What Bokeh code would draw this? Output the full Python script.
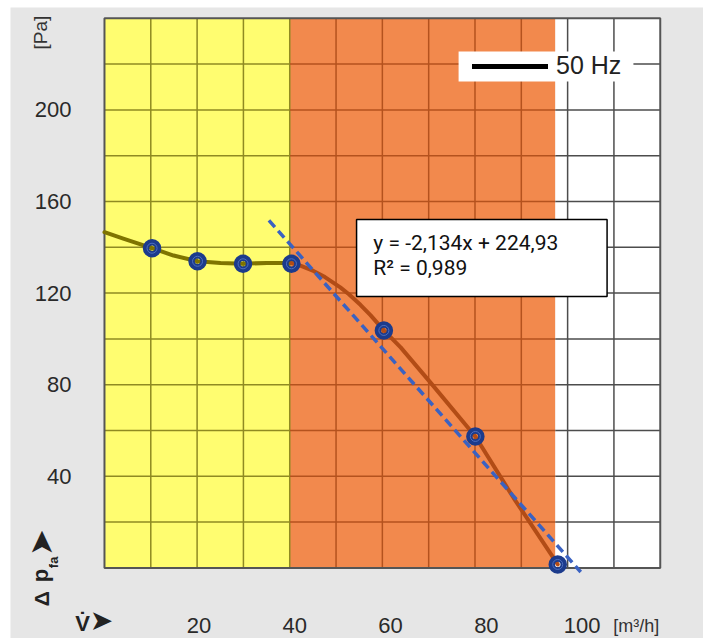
import numpy as np
from bokeh.plotting import figure
from bokeh.models import (Range1d, FixedTicker, Label, BoxAnnotation, Legend, LegendItem,
                          LinearAxis)
from bokeh.embed import file_html
from bokeh.resources import INLINE

# ---------------- data ----------------
flow = [10.2, 19.7, 29.2, 39.3, 58.6, 77.7, 94.9]            # m3/h
pressure = [139.6, 133.9, 132.8, 132.8, 103.7, 57.4, 1.5]     # Pa

curve_flow_low = [0.27, 4.2, 10.2, 14.7, 19.7, 24.5, 29.2, 34.2, 39.3]
curve_p_low = [146.6, 143.8, 139.6, 136.4, 133.9, 133.1, 132.8, 133.2, 133.1]
curve_flow_high = [39.3, 41.3, 43.9, 46.3, 49.5, 51.3, 53.7, 55.8, 58.6, 62.1, 68.3, 77.7, 85.7, 94.9]
curve_p_high = [133.1, 131.9, 129.7, 127.0, 122.5, 119.5, 114.9, 110.4, 103.7, 96.3, 81.0, 57.4, 30.5, 1.5]

x_ticks = [20, 40, 60, 80, 100]
y_ticks = [40, 80, 120, 160, 200]

zone_start = [0.27, 39.0, 94.4]
zone_end = [39.0, 94.4, 116.3]
zone_fill = ["#fffd70", "#f2894d", "#ffffff"]
zone_grid = ["#8f8a22", "#b4521e", "#4d4d4d"]

equation = "y = -2,134x + 224,93"
r_squared = "R² = 0,989"
legend_label = "50 Hz"
y_unit = "[Pa]"
x_unit = "[m³/h]"

# ---------------- figure ----------------
# chart area (with grid) spans X0..X1 / Y0..Y1; the frame also covers the grey margin
X0, X1 = 0.27, 116.3
Y0, Y1 = 0, 240

p = figure(width=693, height=631, output_backend="svg", toolbar_location=None,
           x_range=Range1d(-19.35, 125.33), y_range=Range1d(-30.83, 244.72),
           x_axis_type=None, y_axis_type=None,
           min_border_left=0, min_border_right=0, min_border_top=0, min_border_bottom=0)
p.margin = (7, 0, 0, 10)
p.border_fill_color = "#e6e6e6"
p.background_fill_color = "#e6e6e6"
p.outline_line_color = None
p.xgrid.visible = False
p.ygrid.visible = False

xa = LinearAxis(fixed_location=Y0, ticker=FixedTicker(ticks=x_ticks))
ya = LinearAxis(fixed_location=X0, ticker=FixedTicker(ticks=y_ticks))
for ax in (xa, ya):
    ax.axis_line_color = None
    ax.major_tick_line_color = None
    ax.minor_tick_line_color = None
    ax.major_tick_out = 0
    ax.major_tick_in = 0
    ax.major_label_text_font = "Liberation Sans"
    ax.major_label_text_font_size = "22px"
    ax.major_label_text_color = "#2a2a2a"
xa.major_label_standoff = 50
ya.major_label_standoff = 33
p.add_layout(xa, "below")
p.add_layout(ya, "left")

# zones
p.quad(left=zone_start, right=zone_end, bottom=Y0, top=Y1, fill_color=zone_fill, line_color=None)

# grid (12 x 12 cells), coloured per zone
gx = np.linspace(X0, X1, 13)[1:-1]
gy = np.arange(20, 240, 20)
for i, (a, b, c) in enumerate(zip(zone_start, zone_end, zone_grid)):
    p.segment(x0=[a] * len(gy), x1=[b] * len(gy), y0=list(gy), y1=list(gy),
              line_color=c, line_width=1.5)
    vx = [g for g in gx if (g >= a if i == 0 else g > a) and g <= b]
    if vx:
        p.segment(x0=vx, x1=vx, y0=[Y0] * len(vx), y1=[Y1] * len(vx),
                  line_color=c, line_width=1.5)

# chart outline
p.quad(left=X0, right=X1, bottom=Y0, top=Y1, fill_color=None, line_color="#555555", line_width=2)

# curve
p.line(curve_flow_low, curve_p_low, line_color="#7f7400", line_width=4, line_join="round", line_cap="round")
p.line(curve_flow_high, curve_p_high, line_color="#b24c16", line_width=4, line_join="round", line_cap="round")

# linear trend of the points in the orange zone
fx = np.array(flow)
fy = np.array(pressure)
sel = fx >= 39
k, d = np.polyfit(fx[sel], fy[sel], 1)
trend_x = np.array([34.6, 99.7])
p.line(trend_x, k * trend_x + d, line_color="#3a62c2", line_width=3.5, line_dash="9 5")

# markers
p.scatter(flow, pressure, size=12, fill_color=None, line_color="#1c3b8c", line_width=6.5)
p.scatter(flow, pressure, size=10, fill_color=None, line_color="#4d6fc0", line_width=1)

# equation box
p.add_layout(BoxAnnotation(left=52.9, right=105.2, bottom=118.5, top=152.1,
                           fill_color="white", fill_alpha=1, line_color="black", line_width=1.5,
                           line_alpha=1))
for txt, yy in ((equation, 141.8), (r_squared, 130.9)):
    p.add_layout(Label(x=56.4, y=yy, text=txt, text_font="Roboto", text_font_size="21px",
                       text_color="#111111", text_baseline="middle"))

# legend box
p.add_layout(BoxAnnotation(left=74.2, right=110.7, bottom=212.4, top=225.5,
                           fill_color="white", fill_alpha=1, line_color=None))
dummy = p.line(x=[np.nan], y=[np.nan], line_color="black", line_width=5, line_cap="round")
legend = Legend(items=[LegendItem(label=legend_label, renderers=[dummy])],
                location=(462, 558), padding=0, margin=0, spacing=0,
                glyph_width=76, glyph_height=26, label_height=26, label_standoff=8,
                background_fill_alpha=0, border_line_color=None,
                label_text_font="Liberation Sans", label_text_font_size="25px",
                label_text_color="#222222")
p.add_layout(legend)

# axis titles
def dlabel(text, x, y, size, angle=0.0, bold=False, font="Liberation Sans", color="#222222"):
    p.add_layout(Label(x=x, y=y, text=text,
                       text_font=font, text_font_size=size, angle=angle,
                       text_align="center", text_baseline="middle", text_color=color,
                       text_font_style="bold" if bold else "normal"))

dlabel(y_unit, -13.1, 233.8, "19px", angle=np.pi / 2, color="#333333")
dlabel("Δ", -12.9, -13.4, "21px", angle=np.pi / 2, bold=True)
dlabel("p", -13.1, -3.3, "22px", angle=np.pi / 2, bold=True)
dlabel("fa", -10.4, 2.4, "13px", angle=np.pi / 2, bold=True)
dlabel("➤", -12.9, 11.1, "32px", angle=np.pi / 2, font="DejaVu Sans")
dlabel("V̇", -4.3, -24.3, "22px", bold=True)
dlabel("➤", -0.35, -23.0, "28px", font="DejaVu Sans")
dlabel(x_unit, 111.3, -25.2, "18px", color="#333333")

open("out.html", "w").write(file_html(p, INLINE))
